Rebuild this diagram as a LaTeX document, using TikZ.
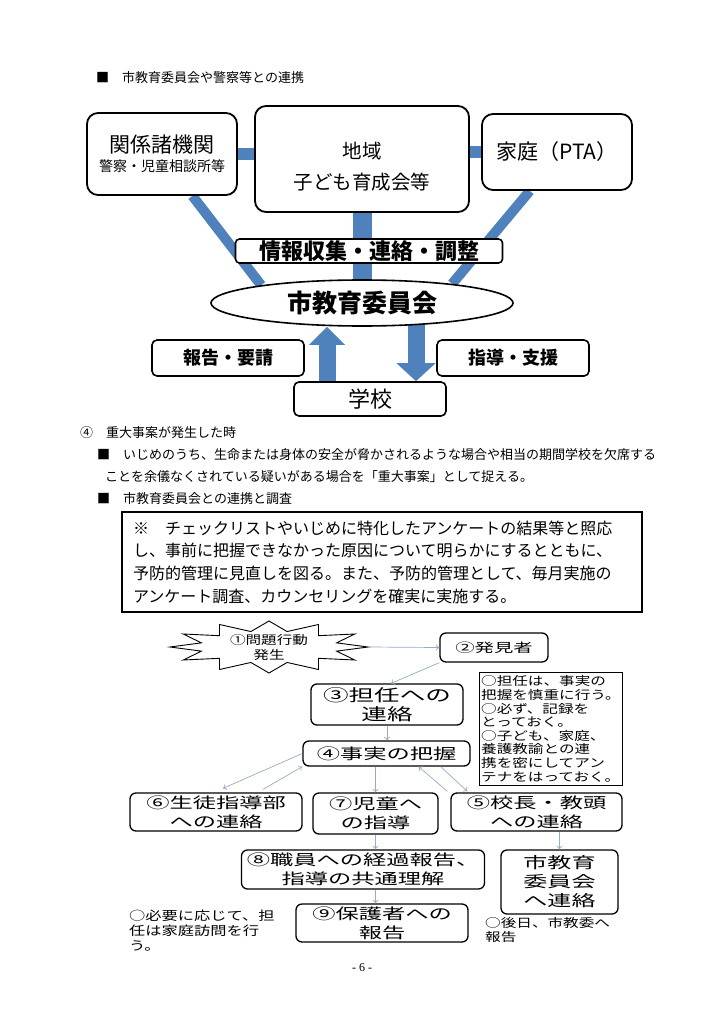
\documentclass[tikz,border=0pt]{standalone}
\usepackage{fontspec}
\setmainfont{Noto Sans CJK JP}
\newfontfamily\wide{Noto Sans CJK JP}[FakeStretch=1.55]
\newfontfamily\widen{Noto Sans CJK JP}[FakeStretch=1.3]
\newfontfamily\pgnum{Liberation Serif}
\usetikzlibrary{calc,arrows.meta,backgrounds,shapes.geometric}
\newcommand\fsz[2]{\fontsize{#1}{#2}\selectfont}
\definecolor{barblue}{RGB}{79,129,189}
\definecolor{thinarrow}{RGB}{150,172,198}
\begin{document}
\begin{tikzpicture}[x=1pt,y=-1pt,
  topbox/.style={draw, line width=1.8pt, rounded corners=11pt, fill=white, align=center, inner sep=0pt},
  labbox/.style={draw, line width=1.6pt, rounded corners=5pt, fill=white, align=center, inner sep=0pt},
  para/.style={anchor=west, inner sep=0pt, font=\fsz{13}{13}},
  fbox/.style={draw, line width=1.3pt, rounded corners=6pt, fill=white, align=center, inner sep=0pt, font=\wide\fsz{15}{19}},
  bar/.style={draw=barblue, line width=10pt},
  thinarr/.style={draw=thinarrow, line width=0.7pt, -{To[length=3.5pt,width=6pt]}},
  smallnote/.style={anchor=north west, align=left, inner sep=0pt}]
\useasboundingbox (0,0) rectangle (725,1024);

% ---------- upper diagram ----------
\node[para] (h1) at (96,78) {■　市教育委員会や警察等との連携};

\node[topbox, minimum width=150pt, minimum height=82pt, font=\fsz{21}{24}] (kankei) at (162,154)
  {関係諸機関\\[-5pt]{\fsz{14}{16}警察・児童相談所等}};
\node[topbox, minimum width=214pt, minimum height=106pt, font=\fsz{19.5}{31}] (chiiki) at (362,159)
  {\rule{0pt}{32pt}地域\\子ども育成会等};
\node[topbox, minimum width=150pt, minimum height=76pt, font=\fsz{21}{24}] (katei) at (557,152)
  {家庭（PTA）};
\node[labbox, rounded corners=4pt, minimum width=267pt, minimum height=24pt, font=\bfseries\fsz{22}{24}] (joho) at (369,251)
  {情報収集・連絡・調整};
\node[ellipse, draw, line width=1.6pt, fill=white, inner sep=0pt, minimum width=302pt, minimum height=46pt, font=\bfseries\fsz{25}{26}] (iinkai) at (362,303)
  {市教育委員会};
\node[labbox, minimum width=152pt, minimum height=36pt, font=\bfseries\fsz{18}{20}] (hokoku) at (228,358) {報告・要請};
\node[labbox, minimum width=152pt, minimum height=36pt, font=\bfseries\fsz{18}{20}] (shido) at (513,358) {指導・支援};
\node[labbox, minimum width=152pt, minimum height=34pt, font=\fsz{22}{24}] (gakko) at (370,399) {学校};

% ---------- text section ----------
\node[para] (h2) at (80,433) {④　重大事案が発生した時};
\node[para] (p1) at (97,455) {■　いじめのうち、生命または身体の安全が脅かされるような場合や相当の期間学校を欠席する};
\node[para] (p2) at (105,477) {ことを余儀なくされている疑いがある場合を「重大事案」として捉える。};
\node[para] (h3) at (97,499) {■　市教育委員会との連携と調査};

\node[draw, line width=2pt, minimum height=100pt, anchor=north west, align=left, text width=498pt, inner xsep=11pt, font=\fsz{16}{22.7}] (kome) at (121,511)
  {※　チェックリストやいじめに特化したアンケートの結果等と照応\\
   し、事前に把握できなかった原因について明らかにするとともに、\\
   予防的管理に見直しを図る。また、予防的管理として、毎月実施の\\
   アンケート調査、カウンセリングを確実に実施する。};

% ---------- flowchart ----------
\node[inner sep=0pt, minimum width=198pt, minimum height=50pt, align=center, font=\widen\fsz{12}{15}] (star) at (269,647)
  {①問題行動\\発生};
\node[fbox, minimum width=108pt, minimum height=29pt, font=\wide\fsz{12.5}{16}] (hakken) at (494,647.5) {②発見者};
\node[fbox, minimum width=152pt, minimum height=41pt, font=\wide\fsz{16.5}{19.5}] (tannin) at (387,704.5) {③担任への\\連絡};
\node[draw, line width=0.8pt, minimum width=143pt, minimum height=111pt, anchor=north west, align=left, inner xsep=1.5pt, font=\widen\fsz{12}{13.6}] (memo) at (479,672)
  {○担任は、事実の\\把握を慎重に行う。\\○必ず、記録を\\とっておく。\\○子ども、家庭、\\養護教諭との連\\携を密にしてアン\\テナをはっておく。};
\node[fbox, minimum width=167pt, minimum height=25pt] (jijitsu) at (386.5,753.5) {④事実の把握};
\node[fbox, minimum width=172pt, minimum height=38pt] (seito) at (216,812) {⑥生徒指導部\\への連絡};
\node[fbox, minimum width=125pt, minimum height=41pt] (jido) at (375.5,813.5) {⑦児童へ\\の指導};
\node[fbox, minimum width=171pt, minimum height=38pt] (kocho) at (536.5,812) {⑤校長・教頭\\への連絡};
\node[fbox, minimum width=243pt, minimum height=39pt] (shokuin) at (363,869.5) {⑧職員への経過報告、\\指導の共通理解};
\node[fbox, minimum width=117pt, minimum height=64pt, font=\wide\fsz{15.5}{19}] (shikyoi) at (559.5,882) {市教育\\委員会\\へ連絡};
\node[fbox, minimum width=172pt, minimum height=38pt] (hogosha) at (382,923) {⑨保護者への\\報告};

\node[smallnote, font=\widen\fsz{12.5}{15}] (note3) at (129,910) {○必要に応じて、担\\任は家庭訪問を行\\う。};
\node[smallnote, font=\widen\fsz{12}{14.5}] (note4) at (485,917) {○後日、市教委へ\\報告};

\node[inner sep=0pt, font=\pgnum\fsz{12}{12}] (pg) at (362,968) {- 6 -};

% thin arrows
\draw[thinarr] (star.east) -- (hakken.west);
\draw[thinarr] (hakken.south west) -- ($(tannin.north)+(4,0)$);
\draw[thinarr] (tannin.south) -- (tannin.south |- jijitsu.north);
\draw[thinarr] (jijitsu.west) -- ($(seito.north)+(7,-4)$);
\draw[thinarr] ($(seito.north)+(47,-3)$) -- (jijitsu.south west);
\draw[thinarr] (jido.north |- jijitsu.south) -- (jido.north);
\draw[thinarr] ($(kocho.north west)+(-3,-1)$) -- ($(jijitsu.south east)+(-52,0)$);
\draw[thinarr] ($(jijitsu.south east)+(-30,0)$) -- ($(kocho.north west)+(17,-1)$);
\draw[thinarr] (jido.south) -- (jido.south |- shokuin.north);
\draw[thinarr] (shikyoi.north |- kocho.south) -- (shikyoi.north);
\draw[thinarr] (jido.south |- shokuin.south) -- (jido.south |- hogosha.north);

% ---------- background layer ----------
\begin{pgfonlayer}{background}
  \fill[white] (0,0) rectangle (725,1024);
  \draw[bar, line width=12pt] (kankei.east) -- (kankei.east -| chiiki.west);
  \draw[bar, line width=12pt] (chiiki.east |- katei.west) -- (katei.west);
  \draw[bar, line width=19pt] (chiiki.south) -- (chiiki.south |- iinkai.center);
  \draw[bar] (kankei.-54) -- (iinkai.170);
  \draw[bar] (katei.-125) -- (iinkai.12);
  \draw[bar, line width=17pt, -{Triangle[width=35pt,length=18pt]}] ($(gakko.north)+(-43,0)$) -- ($(iinkai.south)+(-35,0)$);
  \draw[bar, line width=17pt, -{Triangle[width=38pt,length=18pt]}] ($(iinkai.south)+(54,-3)$) -- ($(gakko.north)+(46,0)$);
  \draw[line width=0.9pt, fill=white, shift={(star.center)}] (99,0)
    \foreach \a in {15,30,...,345} { -- ({ifthenelse(mod(\a,30)==0,99,70)*cos(\a)},{ifthenelse(mod(\a,30)==0,26,16)*sin(\a)}) } -- cycle;
\end{pgfonlayer}
\end{tikzpicture}
\end{document}
